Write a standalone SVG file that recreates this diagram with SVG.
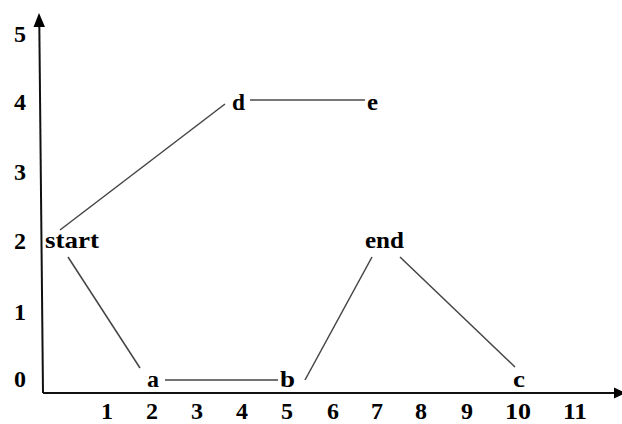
<svg xmlns="http://www.w3.org/2000/svg" width="622" height="424" viewBox="0 0 622 424">
<style>
text{font-family:"Liberation Serif","Times New Roman",serif;font-weight:bold;font-size:24px;fill:#000}
.n{text-anchor:middle}
.edge{stroke:#444;stroke-width:1.5;fill:none}
.axis{stroke:#111;stroke-width:2;fill:none}
.head{fill:#000}
</style>
<g id="axes">
<line class="axis" x1="43" y1="393" x2="39.3" y2="24"/>
<line class="axis" x1="43" y1="393" x2="616" y2="393"/>
<path class="head" d="M39,13 L33.5,27 L45,27 Z"/>
<path class="head" d="M614,387.5 L626,393 L614,398.5 Z"/>
</g>
<g id="y-labels">
<text class="n" x="20" y="42" textLength="12" lengthAdjust="spacingAndGlyphs">5</text>
<text class="n" x="20" y="110" textLength="12" lengthAdjust="spacingAndGlyphs">4</text>
<text class="n" x="20" y="180" textLength="12" lengthAdjust="spacingAndGlyphs">3</text>
<text class="n" x="20" y="249" textLength="12" lengthAdjust="spacingAndGlyphs">2</text>
<text class="n" x="20" y="320" textLength="12" lengthAdjust="spacingAndGlyphs">1</text>
<text class="n" x="20" y="387" textLength="12" lengthAdjust="spacingAndGlyphs">0</text>
</g>
<g id="x-labels">
<text class="n" x="107" y="419" textLength="12" lengthAdjust="spacingAndGlyphs">1</text>
<text class="n" x="152" y="419" textLength="12" lengthAdjust="spacingAndGlyphs">2</text>
<text class="n" x="197" y="419" textLength="12" lengthAdjust="spacingAndGlyphs">3</text>
<text class="n" x="242" y="419" textLength="12" lengthAdjust="spacingAndGlyphs">4</text>
<text class="n" x="287" y="419" textLength="12" lengthAdjust="spacingAndGlyphs">5</text>
<text class="n" x="333" y="419" textLength="12" lengthAdjust="spacingAndGlyphs">6</text>
<text class="n" x="377" y="419" textLength="12" lengthAdjust="spacingAndGlyphs">7</text>
<text class="n" x="421" y="419" textLength="12" lengthAdjust="spacingAndGlyphs">8</text>
<text class="n" x="467" y="419" textLength="12" lengthAdjust="spacingAndGlyphs">9</text>
<text class="n" x="518" y="419" textLength="26" lengthAdjust="spacingAndGlyphs">10</text>
<text class="n" x="575" y="419" textLength="24" lengthAdjust="spacingAndGlyphs">11</text>
</g>
<g id="connectors">
<line class="edge" x1="60" y1="230" x2="225" y2="104"/>
<line class="edge" x1="68" y1="257" x2="140" y2="368"/>
<line class="edge" x1="165" y1="380" x2="278" y2="380"/>
<line class="edge" x1="305" y1="380" x2="372" y2="257"/>
<line class="edge" x1="400" y1="257" x2="515" y2="367"/>
<line class="edge" x1="250" y1="100" x2="365" y2="100" style="stroke:#777;stroke-width:2"/>
</g>
<g id="node-start"><text x="45" y="248" textLength="54" lengthAdjust="spacingAndGlyphs">start</text></g>
<g id="node-d"><text x="232" y="110" textLength="13" lengthAdjust="spacingAndGlyphs">d</text></g>
<g id="node-e"><text x="367" y="110" textLength="11" lengthAdjust="spacingAndGlyphs">e</text></g>
<g id="node-end"><text x="365" y="248" textLength="39" lengthAdjust="spacingAndGlyphs">end</text></g>
<g id="node-a"><text x="147" y="387" textLength="12" lengthAdjust="spacingAndGlyphs">a</text></g>
<g id="node-b"><text x="280" y="387" textLength="15" lengthAdjust="spacingAndGlyphs">b</text></g>
<g id="node-c"><text x="513" y="387" textLength="12" lengthAdjust="spacingAndGlyphs">c</text></g>
</svg>
